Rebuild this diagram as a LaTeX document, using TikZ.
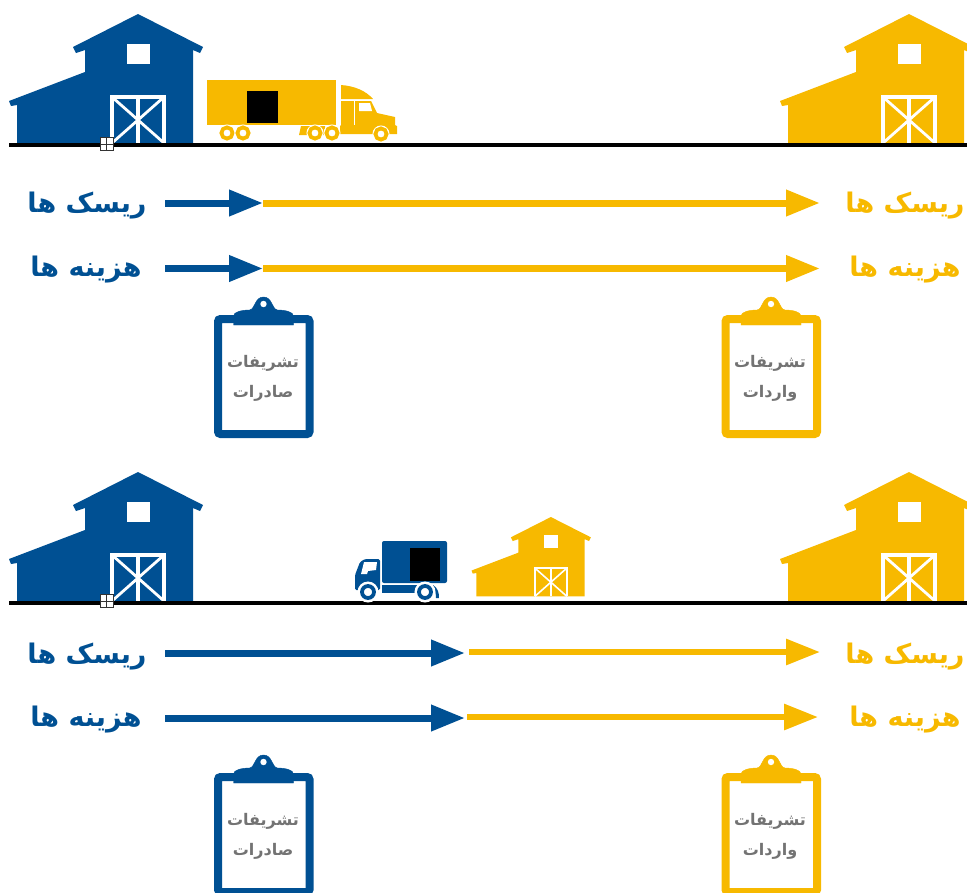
\documentclass[tikz,border=0pt]{standalone}
\usepackage{fontspec}
\usetikzlibrary{arrows.meta}
\TeXXeTstate=1
\newfontfamily\arabicfont[Script=Arabic]{DejaVu Sans}
\newcommand{\fatext}[1]{{\arabicfont\beginR #1\endR}}
\definecolor{barnblue}{RGB}{0,80,147}
\definecolor{barnyellow}{RGB}{247,185,0}
\tikzset{
  barnline/.style={draw=white,line width=3.5pt},
  headlabel/.style={font=\bfseries\fontsize{27}{27}\selectfont,inner sep=0pt},
  cliplabel/.style={text=black!55,font=\bfseries\fontsize{16}{16}\selectfont,inner sep=0pt},
  longarrow/.style={line width=7pt,-{Triangle[length=34pt,width=25pt]}},
  movebox/.style={draw=black!80,fill=white,line width=.7pt,minimum size=13pt,inner sep=0pt},
  barn/.pic={
    \fill[pic actions] (138,14) -- (203,47) -- (200,53) -- (193,50) -- (193,143) -- (17,143)
      -- (17,105) -- (11,106) -- (9,101) -- (85,72) -- (85,50) -- (76,53) -- (73,47) -- cycle;
    \fill[white] (127,44) rectangle (150,64);
    \draw[barnline] (112,143) -- (112,97) -- (164,97) -- (164,143);
    \draw[barnline] (138,97) -- (138,143);
    \draw[barnline,line width=.8*\pgflinewidth] (112,97) -- (164,143);
    \draw[barnline,line width=.8*\pgflinewidth] (164,97) -- (112,143);
  },
  clipboard/.pic={
    \draw[pic actions,line width=8pt,fill=white,rounded corners=2.5pt] (-45.5,19) rectangle (46,134);
    \fill[pic actions] (-30,25) -- (-30,16) .. controls (-30,12) and (-22,10) .. (-14,10)
      .. controls (-8,9) and (-9,-3) .. (0,-3) .. controls (9,-3) and (8,9) .. (14,10)
      .. controls (22,10) and (30,12) .. (30,16) -- (30,25) -- cycle;
    \fill[white] (0,4) circle (3.2);
  }
}
\begin{document}
\begin{tikzpicture}[x=1pt,y=-1pt]
  \useasboundingbox (0,0) rectangle (967,892);
  % barns
  \path (0,0) pic[fill=barnblue] {barn};
  \path (771,0) pic[fill=barnyellow] {barn};
  \path (0,458) pic[fill=barnblue] {barn};
  \path (771,458) pic[fill=barnyellow] {barn};
  \path (466,508.4) pic[fill=barnyellow,scale=.615,barnline/.append style={line width=2pt}] {barn};
  % ground
  \draw[line width=3.5pt] (9,145) -- (967,145);
  \draw[line width=3.5pt] (9,603) -- (967,603);
  \node[movebox] (mark1) at (106.5,144) {};
  \draw[black!80,line width=.6pt] (mark1.north) -- (mark1.south) (mark1.west) -- (mark1.east);
  \node[movebox] (mark2) at (106.5,601) {};
  \draw[black!80,line width=.6pt] (mark2.north) -- (mark2.south) (mark2.west) -- (mark2.east);
  % long truck
  \fill[barnyellow] (207,80) rectangle (336,125);
  \fill[black] (247,91) rectangle (278,123);
  \fill[barnyellow] (341,85) .. controls (355,86) and (366,91) .. (373,99) -- (341,99) -- cycle;
  \fill[barnyellow] (341,101) -- (371,101) -- (377,113) -- (395,117) -- (395,125) -- (397,126)
    -- (397,134) -- (340,134) -- (340,126) -- (341,125) -- cycle;
  \fill[barnyellow] (299,135) -- (301,126) -- (325,126) -- (325,135) -- cycle;
  \fill[white] (359,103) -- (370,103) -- (372,111) -- (359,111) -- cycle;
  \draw[white,line width=1pt] (354,101) -- (354,125);
  \foreach \wx/\wy in {227/133,243/133,315/133,332/133,381/134}{
    \draw[white,fill=white,line width=1pt] (\wx,\wy) circle (8);
    \draw[barnyellow,line width=3.8pt] (\wx,\wy) circle (5.6);
  }
  % small truck
  \fill[barnblue,rounded corners=2pt] (382,583) -- (382,541) -- (447,541) -- (447,583) -- cycle;
  \fill[black] (410,548) rectangle (440,581);
  \fill[barnblue,rounded corners=1.5pt] (355,590) -- (355,575) -- (360,562) -- (365,559) -- (380,559) -- (380,590) -- cycle;
  \fill[white] (361,574) -- (364,562) -- (377,562) -- (376,570) -- (368,571) -- (367,574) -- cycle;
  \fill[barnblue] (382,585) rectangle (418,593);
  \fill[barnblue] (433,585) .. controls (438,588) and (439,593) .. (439,598) -- (436,598) .. controls (436,593) and (435,589) .. (431,586) -- cycle;
  \foreach \wx/\wy in {368/592,425/592}{
    \draw[white,fill=white,line width=1pt] (\wx,\wy) circle (10);
    \draw[barnblue,line width=3.8pt] (\wx,\wy) circle (6);
  }
  % labels
  \node[headlabel,text=barnblue] (risk1) at (87,206) {\fatext{ریسک ها}};
  \node[headlabel,text=barnblue] (cost1) at (86,270) {\fatext{هزینه ها}};
  \node[headlabel,text=barnyellow] (risk2) at (905,206) {\fatext{ریسک ها}};
  \node[headlabel,text=barnyellow] (cost2) at (905,270) {\fatext{هزینه ها}};
  \node[headlabel,text=barnblue] (risk3) at (87,657) {\fatext{ریسک ها}};
  \node[headlabel,text=barnblue] (cost3) at (86,720) {\fatext{هزینه ها}};
  \node[headlabel,text=barnyellow] (risk4) at (905,657) {\fatext{ریسک ها}};
  \node[headlabel,text=barnyellow] (cost4) at (905,720) {\fatext{هزینه ها}};
  % arrows
  \coordinate (a1) at (165,203);
  \coordinate (a2) at (263,203);
  \coordinate (a3) at (820,203);
  \coordinate (b1) at (165,268.5);
  \coordinate (b2) at (263,268.5);
  \coordinate (b3) at (820,268.5);
  \coordinate (c1) at (165,653);
  \coordinate (c2) at (465,653);
  \coordinate (c3) at (469,652);
  \coordinate (c4) at (820,652);
  \coordinate (d1) at (165,718);
  \coordinate (d2) at (465,718);
  \coordinate (d3) at (467,717);
  \coordinate (d4) at (818,717);
  \draw[longarrow,barnyellow] (a2) -- (a3);
  \draw[longarrow,barnblue] (a1) -- (a2);
  \draw[longarrow,barnyellow] (b2) -- (b3);
  \draw[longarrow,barnblue] (b1) -- (b2);
  \draw[longarrow,barnblue] (c1) -- (c2);
  \draw[longarrow,barnyellow,line width=6pt] (c3) -- (c4);
  \draw[longarrow,barnblue] (d1) -- (d2);
  \draw[longarrow,barnyellow,line width=6pt] (d3) -- (d4);
  % clipboards
  \path (263.5,300) pic[draw=barnblue,fill=barnblue] {clipboard};
  \path (771,300) pic[draw=barnyellow,fill=barnyellow] {clipboard};
  \path (263.5,758) pic[draw=barnblue,fill=barnblue] {clipboard};
  \path (771,758) pic[draw=barnyellow,fill=barnyellow] {clipboard};
  \node[cliplabel] (doc1) at (263,363) {\fatext{تشریفات}};
  \node[cliplabel] (doc2) at (263,393) {\fatext{صادرات}};
  \node[cliplabel] (doc3) at (770,363) {\fatext{تشریفات}};
  \node[cliplabel] (doc4) at (770,393) {\fatext{واردات}};
  \node[cliplabel] (doc5) at (263,821) {\fatext{تشریفات}};
  \node[cliplabel] (doc6) at (263,851) {\fatext{صادرات}};
  \node[cliplabel] (doc7) at (770,821) {\fatext{تشریفات}};
  \node[cliplabel] (doc8) at (770,851) {\fatext{واردات}};
\end{tikzpicture}
\end{document}
